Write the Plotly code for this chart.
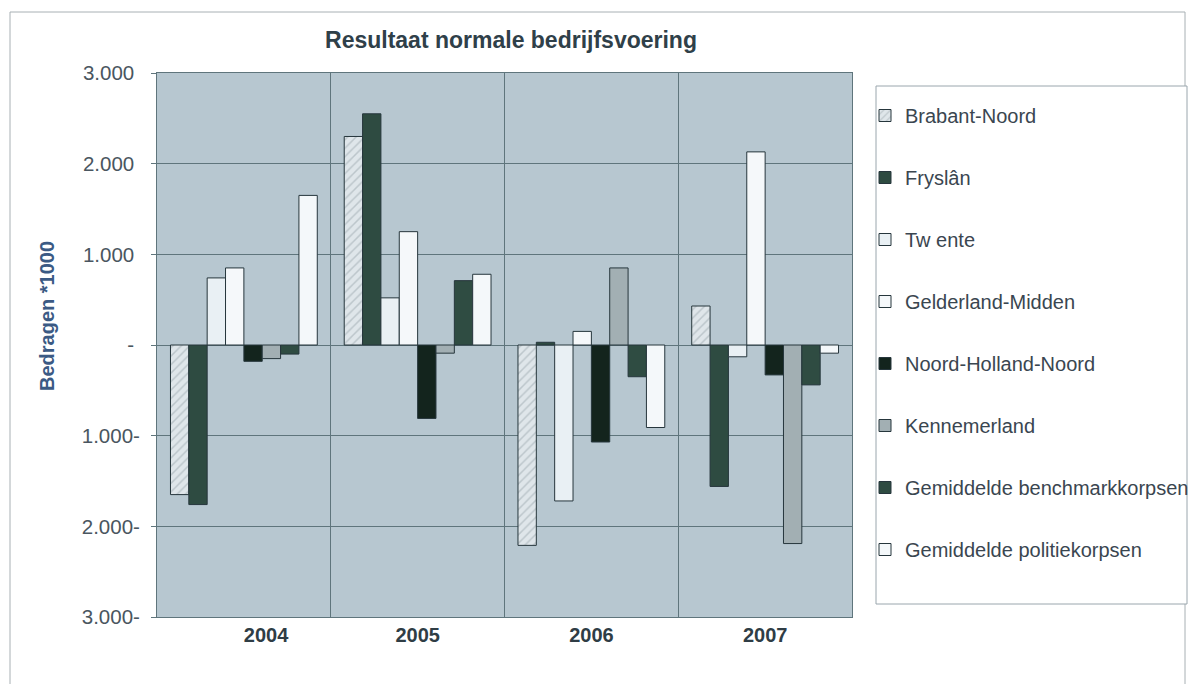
import plotly.graph_objects as go

years = ["2004", "2005", "2006", "2007"]
# the 2004 label sits a little right of its group in the source chart
year_labels = ["\u00a0" * 8 + "2004", "2005", "2006", "2007"]

brabant_noord = [-1650, 2300, -2210, 430]
fryslan = [-1760, 2550, 30, -1560]
twente = [740, 520, -1720, -130]
gelderland_midden = [850, 1250, 150, 2130]
noord_holland_noord = [-180, -810, -1070, -330]
kennemerland = [-150, -90, 850, -2190]
gem_benchmark = [-100, 710, -350, -440]
gem_politie = [1650, 780, -910, -90]

y_ticks = [3000, 2000, 1000, 0, -1000, -2000, -3000]
y_tick_labels = ["3.000\u00a0", "2.000\u00a0", "1.000\u00a0", "-\u00a0", "1.000-", "2.000-", "3.000-"]

OUTLINE = "#26363c"
GRID = "#5f757c"
TEXT = "#3a4650"
FONT = "Liberation Sans, Arial, sans-serif"

series = [
    ("Brabant-Noord", brabant_noord, "#dfe6ea", "/"),
    ("Fryslân", fryslan, "#2e4b41", ""),
    ("Tw ente", twente, "#e9f0f4", ""),
    ("Gelderland-Midden", gelderland_midden, "#f5f8fa", ""),
    ("Noord-Holland-Noord", noord_holland_noord, "#13241d", ""),
    ("Kennemerland", kennemerland, "#a2afb3", ""),
    ("Gemiddelde benchmarkkorpsen", gem_benchmark, "#2f4c42", ""),
    ("Gemiddelde politiekorpsen", gem_politie, "#f4f8fa", ""),
]

fig = go.Figure()
for i, (name, vals, color, shape) in enumerate(series):
    fig.add_trace(go.Bar(
        x=years, y=vals, name=name, legendgroup=f"g{i}",
        marker=dict(
            color=color,
            line=dict(color=OUTLINE, width=1),
            pattern=dict(shape=shape, fgcolor="#9aa6ac", bgcolor=color,
                         size=6, solidity=0.25) if shape else None,
        ),
    ))

# plot area in page pixels (page has an 8px body margin)
L, T, W, H = 149, 65, 695, 544
FW, FH = 1181, 676

def px(x):
    return (x - L) / W

def py(y):
    return (T + H - y) / H

fig.update_layout(
    width=FW, height=FH,
    barmode="group", bargap=0.155, bargroupgap=0,
    paper_bgcolor="white", plot_bgcolor="#b7c7d0",
    font=dict(family=FONT, size=20, color=TEXT),
    margin=dict(l=L, r=FW - L - W, t=T, b=FH - T - H, autoexpand=False),
    title=dict(text="<b>Resultaat normale bedrijfsvoering</b>",
               x=503 / FW, xanchor="center",
               y=1 - 32 / FH, yanchor="middle",
               font=dict(size=23, color="#2f4049")),
    xaxis=dict(
        tickson="boundaries", showgrid=True, gridcolor=GRID, gridwidth=1,
        ticks="", showline=True, linecolor=GRID, linewidth=1, mirror=True,
        tickvals=years, ticktext=[f"<b>{t}</b>" for t in year_labels],
        tickfont=dict(size=20, color="#2f3d45", family=FONT),
    ),
    yaxis=dict(
        range=[-3000, 3000], tickvals=y_ticks, ticktext=y_tick_labels,
        showgrid=True, gridcolor=GRID, gridwidth=1,
        zeroline=True, zerolinecolor=GRID, zerolinewidth=1,
        showline=True, linecolor=GRID, linewidth=1, mirror=True,
        ticks="outside", ticklen=5, tickcolor=GRID,
        ticklabelstandoff=7,
        tickfont=dict(size=20.5, color="#4a5660"),
    ),
    legend=dict(
        x=px(857), xanchor="left",
        y=py(88), yanchor="top",
        borderwidth=0, bgcolor="rgba(0,0,0,0)",
        traceorder="grouped", tracegroupgap=33,
        font=dict(size=20, color=TEXT),
        itemwidth=30,
    ),
    annotations=[dict(
        text="<b>Bedragen *1000</b>", textangle=-90,
        xref="paper", yref="paper",
        x=px(39), y=py(308),
        xanchor="center", yanchor="middle", showarrow=False,
        font=dict(size=20, color="#3b5a84"),
    )],
    shapes=[
        # outer chart frame
        dict(type="rect", xref="paper", yref="paper",
             x0=px(2), x1=px(1177), y0=py(700), y1=py(4),
             line=dict(color="#a8b0b4", width=1), fillcolor="rgba(0,0,0,0)",
             layer="below"),
        # legend frame
        dict(type="rect", xref="paper", yref="paper",
             x0=px(868), x1=px(1179), y0=py(596), y1=py(78),
             line=dict(color="#9aa6ad", width=1), fillcolor="white",
             layer="below"),
    ],
)

fig.write_html("out.html")
